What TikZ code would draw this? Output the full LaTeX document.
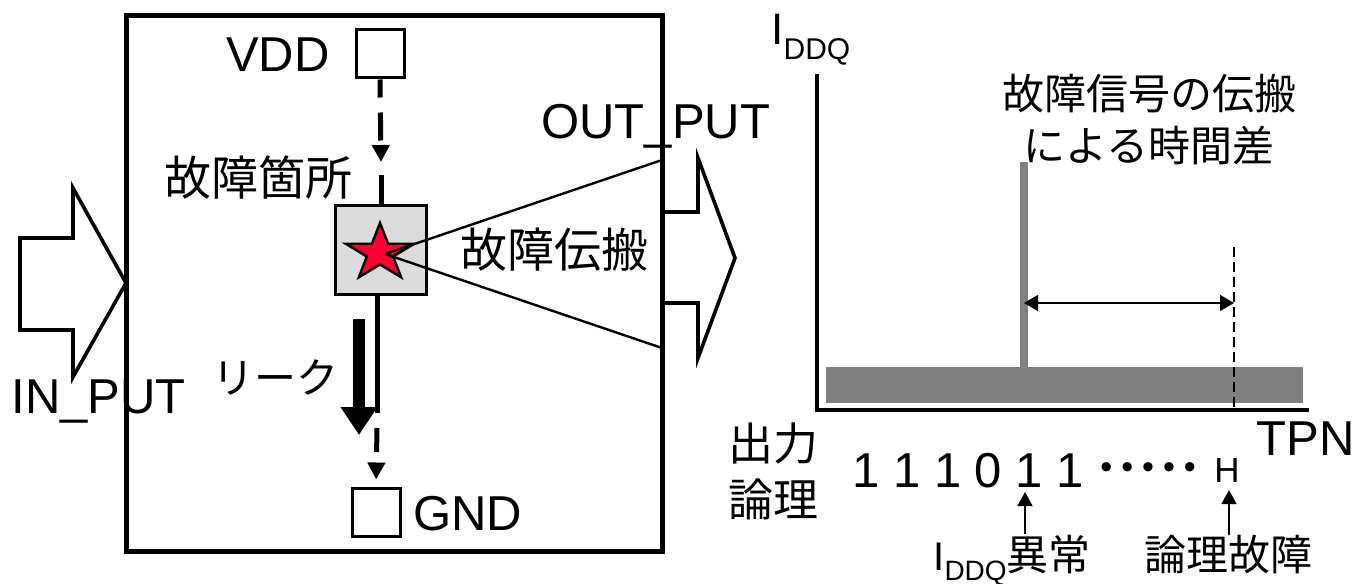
\documentclass[tikz,border=0pt]{standalone}
\usepackage{fontspec}
\setmainfont{Liberation Sans}
\newfontfamily\jpfont{Noto Sans CJK JP}
\usetikzlibrary{arrows.meta}
\definecolor{boxgray}{rgb}{0.86,0.86,0.86}
\definecolor{bargray}{rgb}{0.5,0.5,0.5}
\definecolor{starred}{rgb}{1.0,0.0,0.2}

\begin{document}
\begin{tikzpicture}[x=0.5pt, y=-0.5pt,
    latin/.style={inner sep=0pt, anchor=base west, font=\fontsize{24.5}{28}\selectfont},
    jbig/.style={inner sep=0pt, align=center, font=\jpfont\fontsize{23.5}{28}\selectfont},
    jmid/.style={inner sep=0pt, align=center, font=\jpfont\fontsize{21}{26}\selectfont},
    pad/.style={draw, fill=white, line width=1.5pt, minimum size=24pt, inner sep=0pt},
    faultbox/.style={draw, fill=boxgray, line width=1.5pt, minimum width=45.5pt, minimum height=44.5pt, inner sep=0pt},
    blockarrow/.style={draw, line width=1.8pt},
    wire/.style={line width=2.5pt},
    wiredash/.style={line width=2.5pt, -{Triangle[length=8.5pt, width=8.5pt]}},
    ptr/.style={line width=0.8pt, -{Triangle[length=7pt, width=7.5pt]}}]
\useasboundingbox (0,0) rectangle (1352,583);

% chip
\draw[blockarrow] (20,238) -- (73,238) -- (73,188) -- (126,283) -- (73,377) -- (73,330) -- (20,330) -- cycle;
\draw[line width=2.5pt] (126,16) rectangle (662,551);
\draw[blockarrow] (662,212) -- (698,212) -- (698,158) -- (735,258) -- (698,358) -- (698,303) -- (662,303);
\node[latin] (inlbl) at (11,413) {IN\_PUT};
\node[latin] (outlbl) at (541,138) {OUT\_PUT};

\node[pad] (vdd) at (380,54) {};
\node[latin, anchor=base east] (vddlbl) at (330,72) {VDD};
\node[pad] (gnd) at (376,512) {};
\node[latin] (gndlbl) at (413,530) {GND};
\node[faultbox] (fault) at (381,250) {};

\coordinate (vtip) at (381,162);
\coordinate (vgap) at (381,175);
\coordinate (gstub) at (377,413);
\coordinate (gmid) at (377,428);
\draw[wiredash, dash pattern=on 14pt off 7.5pt, dash phase=5pt] (vdd.south) -- (vtip);
\draw[wire] (vgap) -- (fault.north);
\draw[wire] ([xshift=-2pt]fault.south) -- (gstub);
\draw[wiredash, dash pattern=on 12pt off 6pt, shorten >=3.5pt] (gmid) -- (gnd.north);

% fault star
\draw[fill=starred, line width=1.2pt, shift={(380,253)}]
    (-90:36 and 30) -- (-54:13.8 and 11.5) -- (-18:36 and 30) -- (18:13.8 and 11.5)
    -- (54:36 and 30) -- (90:13.8 and 11.5) -- (126:36 and 30) -- (162:13.8 and 11.5)
    -- (198:36 and 30) -- (234:13.8 and 11.5) -- cycle;
\coordinate (starc) at (385,254);
\coordinate (outtop) at (662,160);
\coordinate (outbot) at (662,348);
\draw[line width=1.2pt] (starc) -- (outtop);
\draw[line width=1.2pt] (starc) -- (outbot);

\node[jbig] (faultlbl) at (258,178) {故障箇所};
\node[jbig] (proplbl) at (554,250) {故障伝搬};
\node[jbig, font=\jpfont\fontsize{21}{26}\selectfont] (leaklbl) at (275,377) {リーク};
\coordinate (leaktop) at (359,319);
\coordinate (leakend) at (359,435);
\draw[line width=6pt, -{Triangle[length=14pt, width=17.5pt]}] (leaktop) -- (leakend);

% IDDQ graph
\fill[bargray] (826,367) rectangle (1303,403);
\fill[bargray] (1020,162) rectangle (1028,367);
\draw[line width=0.8pt, dash pattern=on 5pt off 2.5pt] (1234,247) -- (1234,410);
\draw[line width=1.6pt] (817,74) -- (817,410) -- (1309,410);
\coordinate (peakx) at (1024,303);
\coordinate (dashx) at (1234,303);
\draw[line width=0.8pt, {Triangle[length=7pt, width=8pt]}-{Triangle[length=7pt, width=8pt]}] (peakx) -- (dashx);

\node[latin, font=\fontsize{22}{22}\selectfont] (iddqax) at (771,45) {I\raisebox{-7.5pt}{\fontsize{15}{15}\selectfont DDQ}};
\node[latin] (tpn) at (1256,455) {TPN};
\node[jmid] (delaylbl) at (1149,120) {故障信号の伝搬\\による時間差};
\node[inner sep=0pt, align=center, font=\jpfont\fontsize{22.5}{28}\selectfont] (outlogic) at (773,471) {出力\\論理};

\node[latin] (bits) at (852,487) {1 1 1 0 1 1};
\node[latin, font=\fontsize{17}{17}\selectfont] (dots) at (1100,478) {•\kern4.5pt•\kern4.5pt•\kern4.5pt•\kern4.5pt•};
\node[latin, font=\fontsize{17.5}{17.5}\selectfont] (hbit) at (1214,482) {H};
\node[latin, font=\fontsize{20}{20}\selectfont] (abn) at (933,570) {I\raisebox{-5pt}{\fontsize{14}{14}\selectfont DDQ}{\jpfont\fontsize{21}{21}\selectfont 異常}};
\node[jmid] (logf) at (1228,555) {論理故障};
\coordinate (bit5) at (1025,492);
\coordinate (bitH) at (1229,490);
\draw[ptr] (abn.north -| bit5) -- (bit5);
\draw[ptr] (logf.north -| bitH) -- (bitH);
\end{tikzpicture}
\end{document}
